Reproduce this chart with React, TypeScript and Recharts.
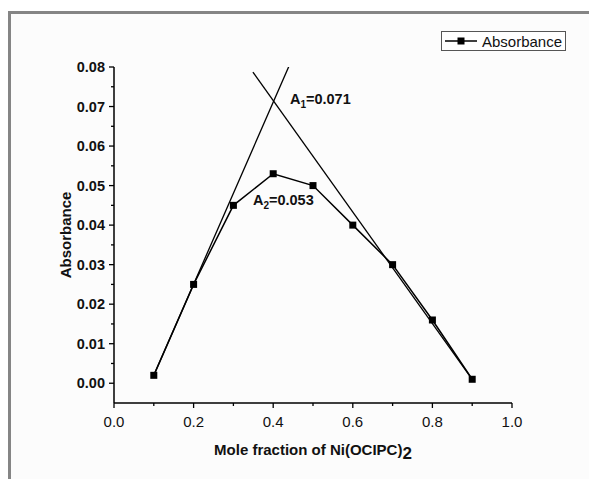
import React from "react";
import {
  LineChart, Line, XAxis, YAxis, Legend, ReferenceDot,
} from "recharts";

// ── Data ──────────────────────────────────────────────────────────────────────

const MOLE_FRACTION = [0.1, 0.2, 0.3, 0.4, 0.5, 0.6, 0.7, 0.8, 0.9];
const ABSORBANCE = [0.002, 0.025, 0.045, 0.053, 0.05, 0.04, 0.03, 0.016, 0.001];

// extrapolated straight lines (Job's plot tangents)
const RISING_X = [0.1, 0.443];
const RISING_Y = [0.002, 0.081];
const FALLING_X = [0.349, 0.9];
const FALLING_Y = [0.0787, 0.001];

const X_MAJOR = [0, 0.2, 0.4, 0.6, 0.8, 1.0];
const X_MINOR = [0.1, 0.3, 0.5, 0.7, 0.9];
const Y_MAJOR = [0, 0.01, 0.02, 0.03, 0.04, 0.05, 0.06, 0.07, 0.08];
const Y_MINOR = [0.005, 0.015, 0.025, 0.035, 0.045, 0.055, 0.065, 0.075];

const ANNOTATIONS = [
  { x: 0.442, y: 0.0719, sub: "1", value: "=0.071" },
  { x: 0.349, y: 0.0463, sub: "2", value: "=0.053" },
];

const zip = (xs: number[], ys: number[]) => xs.map((x, i) => ({ x, y: ys[i] }));

const points = zip(MOLE_FRACTION, ABSORBANCE);
const rising = zip(RISING_X, RISING_Y);
const falling = zip(FALLING_X, FALLING_Y);

const FONT = "'Liberation Sans', Arial, sans-serif";

// ── Ticks ─────────────────────────────────────────────────────────────────────

function XTick({ x, y, payload }: any) {
  const major = X_MAJOR.includes(payload.value);
  return (
    <g>
      <line x1={x} x2={x} y1={y} y2={y + (major ? 5 : 3)} stroke="#000" strokeWidth={1.3} />
      {major && (
        <text x={x} y={y} dy={24} textAnchor="middle" fontSize={15} fontFamily={FONT} fill="#111">
          {payload.value.toFixed(1)}
        </text>
      )}
    </g>
  );
}

function YTick({ x, y, payload }: any) {
  const major = Y_MAJOR.includes(payload.value);
  return (
    <g>
      <line x1={x} x2={x - (major ? 5 : 3)} y1={y} y2={y} stroke="#000" strokeWidth={1.3} />
      {major && (
        <text x={x - 9} y={y} dy={5} textAnchor="end" fontSize={14.5} fontWeight="bold" fontFamily={FONT} fill="#111">
          {payload.value.toFixed(2)}
        </text>
      )}
    </g>
  );
}

const Square = ({ cx, cy }: any) =>
  cx == null ? null : <rect x={cx - 3.5} y={cy - 3.5} width={7} height={7} fill="#000" />;

function LegendBox() {
  return (
    <div
      style={{
        border: "1px solid #555",
        background: "#fff",
        width: 123,
        height: 18,
        display: "flex",
        alignItems: "center",
        fontFamily: FONT,
        fontSize: 15,
        color: "#111",
      }}
    >
      <svg width={38} height={18}>
        <line x1={3} x2={35} y1={9} y2={9} stroke="#000" strokeWidth={1.5} />
        <rect x={15.5} y={5.5} width={7} height={7} fill="#000" />
      </svg>
      <span style={{ marginLeft: 2 }}>Absorbance</span>
    </div>
  );
}

function Annotation({ cx, cy, sub, value }: any) {
  return (
    <text x={cx} y={cy + 5} fontSize={14.5} fontWeight="bold" fontFamily={FONT} fill="#111">
      A<tspan fontSize={10} dy={4}>{sub}</tspan>
      <tspan fontSize={14.5} dy={-4}>{value}</tspan>
    </text>
  );
}

// ── Chart ─────────────────────────────────────────────────────────────────────

export default function App() {
  return (
    <div style={{ position: "absolute", left: 0, top: 0, width: 589, height: 479, background: "#fff", overflow: "hidden" }}>
      <style>{`.recharts-line{clip-path:none}`}</style>
      <div
        style={{
          position: "absolute",
          left: 8,
          top: 11,
          width: 600,
          height: 500,
          borderTop: "3px solid #858585",
          borderLeft: "3px solid #858585",
          background: "#fcfcfc",
        }}
      />
      <div style={{ position: "absolute", left: 0, top: 0 }}>
        <LineChart width={589} height={479} margin={{ top: 67, right: 77, bottom: 26, left: 54 }}>
          <XAxis
            type="number"
            dataKey="x"
            domain={[0, 1]}
            ticks={[...X_MAJOR, ...X_MINOR].sort((a, b) => a - b)}
            interval={0}
            tickSize={0}
            tickMargin={0}
            tickLine={false}
            tick={<XTick />}
            height={50}
            axisLine={{ stroke: "#000", strokeWidth: 1.5 }}
            label={{
              content: () => (
                <text x={313} y={455} textAnchor="middle" fontSize={15} fontWeight="bold" fontFamily={FONT} fill="#111">
                  Mole fraction of Ni(OCIPC)<tspan fontSize={17} dy={4}>2</tspan>
                </text>
              ),
            }}
          />
          <YAxis
            type="number"
            domain={[-0.005, 0.08]}
            allowDataOverflow
            ticks={[...Y_MAJOR, ...Y_MINOR].sort((a, b) => a - b)}
            interval={0}
            tickSize={0}
            tickMargin={0}
            tickLine={false}
            tick={<YTick />}
            width={60}
            axisLine={{ stroke: "#000", strokeWidth: 1.5 }}
            label={{
              content: () => (
                <text
                  x={0}
                  y={0}
                  transform="translate(71 235) rotate(-90)"
                  textAnchor="middle"
                  fontSize={15}
                  fontWeight="bold"
                  fontFamily={FONT}
                  fill="#111"
                >
                  Absorbance
                </text>
              ),
            }}
          />
          <Legend
            layout="horizontal"
            verticalAlign="middle"
            align="center"
            content={() => <LegendBox />}
            wrapperStyle={{ position: "absolute", left: 441, top: 31, width: "auto" }}
          />
          <Line data={rising} dataKey="y" stroke="#000" strokeWidth={1.3} dot={false} legendType="none" isAnimationActive={false} />
          <Line data={falling} dataKey="y" stroke="#000" strokeWidth={1.3} dot={false} legendType="none" isAnimationActive={false} />
          <Line
            data={points}
            dataKey="y"
            name="Absorbance"
            stroke="#000"
            strokeWidth={1.5}
            dot={<Square />}
            activeDot={false}
            isAnimationActive={false}
          />
          {ANNOTATIONS.map((a) => (
            <ReferenceDot
              key={a.sub}
              x={a.x}
              y={a.y}
              r={0}
              shape={(p: any) => <Annotation {...p} sub={a.sub} value={a.value} />}
            />
          ))}
        </LineChart>
      </div>
    </div>
  );
}
